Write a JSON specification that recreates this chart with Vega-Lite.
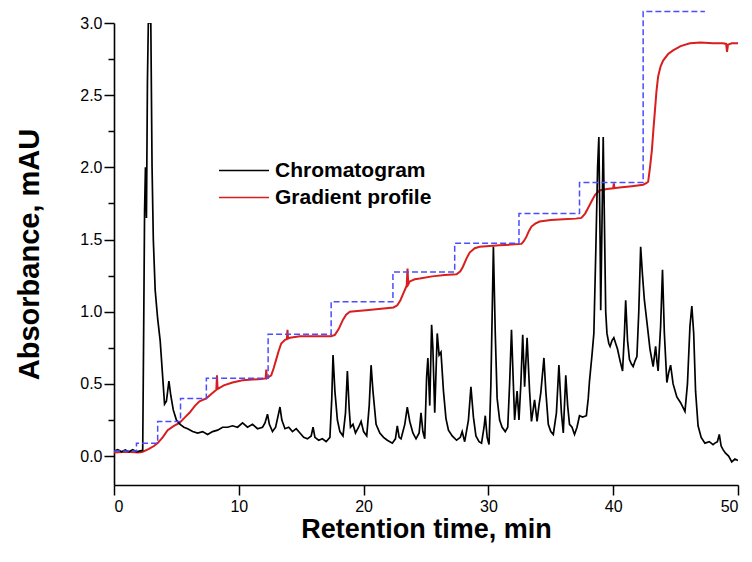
{
  "$schema": "https://vega.github.io/schema/vega-lite/v6.json",
  "width": 624,
  "height": 462,
  "autosize": {"type": "none"},
  "padding": {"left": 114, "top": 23, "right": 14, "bottom": 77},
  "background": "white",
  "config": {
    "view": {"stroke": null},
    "font": "Liberation Sans",
    "axis": {"grid": false, "domainColor": "black", "domainWidth": 1.6, "tickColor": "black", "tickWidth": 1.5, "labelColor": "black", "labelFont": "Liberation Sans", "labelFontSize": 16, "titleColor": "black", "titleFont": "Liberation Sans", "titleFontWeight": "bold"}
  },
  "datasets": {
    "chrom": [
      {"t":0,"v":0.035},{"t":0.3,"v":0.045},{"t":0.6,"v":0.03},{"t":0.9,"v":0.042},{"t":1.2,"v":0.03},{"t":1.5,"v":0.045},{"t":1.8,"v":0.03},{"t":2.1,"v":0.036},{"t":2.3,"v":0.04},
      {"t":2.38,"v":0.9},{"t":2.45,"v":1.7},{"t":2.52,"v":2.0},{"t":2.6,"v":1.65},{"t":2.68,"v":2.6},{"t":2.75,"v":3.0},{"t":2.95,"v":3.0},{"t":3.05,"v":2.0},{"t":3.15,"v":1.5},{"t":3.3,"v":1.15},{"t":3.5,"v":0.95},{"t":3.7,"v":0.8},{"t":3.9,"v":0.55},{"t":4.05,"v":0.36},{"t":4.2,"v":0.38},{"t":4.4,"v":0.52},{"t":4.55,"v":0.42},{"t":4.75,"v":0.32},{"t":5.0,"v":0.25},{"t":5.3,"v":0.22},
      {"t":5.6,"v":0.2},{"t":5.9,"v":0.19},{"t":6.3,"v":0.17},{"t":6.7,"v":0.16},{"t":7.1,"v":0.17},{"t":7.5,"v":0.15},{"t":7.9,"v":0.17},{"t":8.3,"v":0.18},{"t":8.7,"v":0.2},{"t":9.1,"v":0.2},{"t":9.5,"v":0.21},{"t":9.9,"v":0.2},{"t":10.3,"v":0.23},{"t":10.7,"v":0.2},{"t":11.1,"v":0.22},{"t":11.5,"v":0.19},{"t":11.9,"v":0.2},{"t":12.1,"v":0.23},{"t":12.3,"v":0.29},{"t":12.45,"v":0.22},{"t":12.7,"v":0.17},{"t":12.95,"v":0.2},{"t":13.2,"v":0.3},{"t":13.3,"v":0.34},{"t":13.45,"v":0.25},{"t":13.7,"v":0.19},{"t":14.0,"v":0.2},{"t":14.3,"v":0.17},{"t":14.6,"v":0.19},{"t":14.9,"v":0.16},{"t":15.2,"v":0.13},{"t":15.5,"v":0.12},{"t":15.8,"v":0.14},{"t":15.95,"v":0.2},{"t":16.1,"v":0.13},{"t":16.4,"v":0.11},{"t":16.7,"v":0.12},{"t":17.0,"v":0.1},{"t":17.3,"v":0.13},
      {"t":17.45,"v":0.4},{"t":17.55,"v":0.7},{"t":17.7,"v":0.45},{"t":17.9,"v":0.25},{"t":18.1,"v":0.17},{"t":18.35,"v":0.14},{"t":18.55,"v":0.3},{"t":18.7,"v":0.59},{"t":18.85,"v":0.32},{"t":18.95,"v":0.2},{"t":19.15,"v":0.22},{"t":19.35,"v":0.16},{"t":19.6,"v":0.2},{"t":19.8,"v":0.24},{"t":20.0,"v":0.17},{"t":20.25,"v":0.14},{"t":20.45,"v":0.35},{"t":20.6,"v":0.63},{"t":20.75,"v":0.45},{"t":21.0,"v":0.22},{"t":21.3,"v":0.16},{"t":21.6,"v":0.13},{"t":21.9,"v":0.11},{"t":22.3,"v":0.09},{"t":22.55,"v":0.12},{"t":22.7,"v":0.21},{"t":22.85,"v":0.13},{"t":23.0,"v":0.12},{"t":23.3,"v":0.22},{"t":23.5,"v":0.34},{"t":23.7,"v":0.24},{"t":23.95,"v":0.16},{"t":24.2,"v":0.12},{"t":24.45,"v":0.16},{"t":24.6,"v":0.3},{"t":24.75,"v":0.17},{"t":24.9,"v":0.12},
      {"t":25.05,"v":0.55},{"t":25.15,"v":0.68},{"t":25.3,"v":0.35},{"t":25.45,"v":0.91},{"t":25.55,"v":0.75},{"t":25.7,"v":0.3},{"t":25.9,"v":0.85},{"t":26.05,"v":0.7},{"t":26.2,"v":0.72},{"t":26.4,"v":0.45},{"t":26.6,"v":0.26},{"t":26.8,"v":0.18},{"t":27.1,"v":0.14},{"t":27.45,"v":0.11},{"t":27.75,"v":0.13},{"t":27.9,"v":0.17},{"t":28.1,"v":0.1},{"t":28.4,"v":0.25},{"t":28.6,"v":0.48},{"t":28.8,"v":0.27},{"t":29.0,"v":0.14},{"t":29.25,"v":0.1},{"t":29.45,"v":0.09},{"t":29.65,"v":0.2},{"t":29.75,"v":0.28},{"t":29.9,"v":0.13},{"t":30.05,"v":0.08},
      {"t":30.2,"v":0.5},{"t":30.4,"v":1.45},{"t":30.55,"v":0.85},{"t":30.7,"v":0.4},{"t":30.9,"v":0.25},{"t":31.1,"v":0.2},{"t":31.35,"v":0.17},{"t":31.55,"v":0.2},{"t":31.7,"v":0.5},{"t":31.85,"v":0.875},{"t":32.0,"v":0.5},{"t":32.1,"v":0.25},{"t":32.3,"v":0.45},{"t":32.45,"v":0.25},{"t":32.6,"v":0.5},{"t":32.75,"v":0.84},{"t":32.9,"v":0.48},{"t":33.1,"v":0.82},{"t":33.3,"v":0.45},{"t":33.45,"v":0.24},{"t":33.7,"v":0.39},{"t":33.9,"v":0.24},{"t":34.05,"v":0.35},{"t":34.2,"v":0.44},{"t":34.45,"v":0.68},{"t":34.6,"v":0.45},{"t":34.8,"v":0.22},{"t":35.0,"v":0.17},{"t":35.2,"v":0.15},{"t":35.45,"v":0.3},{"t":35.65,"v":0.63},{"t":35.85,"v":0.3},{"t":36.0,"v":0.16},{"t":36.2,"v":0.56},{"t":36.35,"v":0.35},{"t":36.5,"v":0.22},{"t":36.7,"v":0.2},{"t":36.9,"v":0.15},{"t":37.1,"v":0.2},{"t":37.3,"v":0.28},{"t":37.55,"v":0.27},{"t":37.85,"v":0.28},{"t":38.0,"v":0.4},{"t":38.1,"v":0.52},{"t":38.3,"v":0.7},{"t":38.45,"v":0.85},
      {"t":38.6,"v":1.4},{"t":38.75,"v":2.0},{"t":38.85,"v":2.21},{"t":38.95,"v":1.5},{"t":39.0,"v":1.01},{"t":39.1,"v":1.6},{"t":39.2,"v":2.21},{"t":39.3,"v":1.6},{"t":39.4,"v":1.0},{"t":39.5,"v":0.85},{"t":39.65,"v":0.78},{"t":39.75,"v":0.76},{"t":39.9,"v":0.8},{"t":40.05,"v":0.82},{"t":40.2,"v":0.78},{"t":40.35,"v":0.74},{"t":40.55,"v":0.66},{"t":40.75,"v":0.59},{"t":40.9,"v":0.85},{"t":41.0,"v":1.08},{"t":41.15,"v":0.8},{"t":41.3,"v":0.67},{"t":41.45,"v":0.64},{"t":41.6,"v":0.62},{"t":41.75,"v":0.66},{"t":41.9,"v":0.69},{"t":42.05,"v":1.0},{"t":42.2,"v":1.45},{"t":42.35,"v":1.25},{"t":42.5,"v":1.08},{"t":42.7,"v":0.93},{"t":42.95,"v":0.74},{"t":43.2,"v":0.62},{"t":43.4,"v":0.76},{"t":43.5,"v":0.66},{"t":43.6,"v":0.59},{"t":43.8,"v":0.9},{"t":43.95,"v":1.29},{"t":44.1,"v":0.85},{"t":44.3,"v":0.51},{"t":44.45,"v":0.58},{"t":44.6,"v":0.63},{"t":44.8,"v":0.5},{"t":45.1,"v":0.41},{"t":45.4,"v":0.37},{"t":45.75,"v":0.31},{"t":45.95,"v":0.5},{"t":46.15,"v":0.9},{"t":46.3,"v":1.04},{"t":46.45,"v":0.85},{"t":46.6,"v":0.45},{"t":46.8,"v":0.21},{"t":47.05,"v":0.13},{"t":47.35,"v":0.09},{"t":47.7,"v":0.1},{"t":48.0,"v":0.08},{"t":48.15,"v":0.09},{"t":48.35,"v":0.1},{"t":48.5,"v":0.15},{"t":48.65,"v":0.07},{"t":48.8,"v":0.045},{"t":49.0,"v":0.02},{"t":49.25,"v":0.0},{"t":49.5,"v":-0.04},{"t":49.75,"v":-0.02},{"t":50.0,"v":-0.03}
    ],
    "grad": [
      {"t":0,"v":0.025},{"t":1.0,"v":0.03},{"t":2.0,"v":0.025},{"t":2.3,"v":0.03},{"t":2.8,"v":0.05},{"t":3.2,"v":0.07},{"t":3.5,"v":0.09},{"t":3.9,"v":0.13},{"t":4.3,"v":0.18},{"t":4.8,"v":0.21},{"t":5.25,"v":0.23},{"t":5.7,"v":0.27},{"t":6.05,"v":0.3},{"t":6.5,"v":0.35},{"t":6.85,"v":0.38},{"t":7.4,"v":0.4},{"t":7.8,"v":0.43},{"t":8.2,"v":0.46},{"t":8.25,"v":0.56},{"t":8.3,"v":0.465},{"t":8.8,"v":0.49},{"t":9.5,"v":0.51},{"t":10.3,"v":0.525},{"t":11.1,"v":0.53},{"t":11.8,"v":0.535},{"t":12.15,"v":0.538},{"t":12.2,"v":0.6},{"t":12.25,"v":0.54},{"t":12.6,"v":0.56},{"t":12.8,"v":0.61},{"t":13.0,"v":0.67},{"t":13.2,"v":0.73},{"t":13.4,"v":0.78},{"t":13.7,"v":0.805},{"t":13.85,"v":0.81},{"t":13.9,"v":0.875},{"t":13.95,"v":0.815},{"t":14.1,"v":0.82},{"t":14.9,"v":0.83},{"t":15.7,"v":0.83},{"t":16.5,"v":0.83},{"t":17.4,"v":0.83},{"t":17.7,"v":0.84},{"t":18.0,"v":0.88},{"t":18.35,"v":0.945},{"t":18.6,"v":0.98},{"t":18.9,"v":1.0},{"t":19.5,"v":1.005},{"t":20.2,"v":1.01},{"t":21.4,"v":1.02},{"t":22.4,"v":1.03},{"t":22.7,"v":1.045},{"t":22.95,"v":1.08},{"t":23.15,"v":1.12},{"t":23.45,"v":1.18},{"t":23.52,"v":1.3},{"t":23.58,"v":1.19},{"t":23.7,"v":1.21},{"t":24.1,"v":1.225},{"t":24.5,"v":1.23},{"t":25.5,"v":1.245},{"t":26.5,"v":1.255},{"t":27.45,"v":1.26},{"t":27.75,"v":1.28},{"t":27.95,"v":1.31},{"t":28.25,"v":1.37},{"t":28.5,"v":1.41},{"t":28.9,"v":1.44},{"t":29.3,"v":1.45},{"t":30.1,"v":1.455},{"t":30.9,"v":1.46},{"t":31.8,"v":1.465},{"t":32.65,"v":1.47},{"t":32.85,"v":1.49},{"t":33.05,"v":1.52},{"t":33.25,"v":1.56},{"t":33.45,"v":1.59},{"t":33.75,"v":1.61},{"t":34.1,"v":1.625},{"t":35.0,"v":1.635},{"t":36.0,"v":1.64},{"t":37.0,"v":1.645},{"t":37.45,"v":1.65},{"t":37.75,"v":1.68},{"t":38.0,"v":1.72},{"t":38.3,"v":1.77},{"t":38.55,"v":1.81},{"t":38.9,"v":1.84},{"t":39.5,"v":1.85},{"t":40.0,"v":1.855},{"t":40.05,"v":1.89},{"t":40.1,"v":1.856},{"t":40.5,"v":1.86},{"t":41.5,"v":1.87},{"t":42.4,"v":1.88},{"t":42.65,"v":1.89},{"t":42.8,"v":1.9},{"t":42.95,"v":2.0},{"t":43.1,"v":2.12},{"t":43.22,"v":2.26},{"t":43.35,"v":2.4},{"t":43.47,"v":2.53},{"t":43.6,"v":2.63},{"t":43.8,"v":2.7},{"t":44.0,"v":2.74},{"t":44.4,"v":2.785},{"t":44.8,"v":2.81},{"t":45.4,"v":2.84},{"t":46.15,"v":2.86},{"t":47.0,"v":2.865},{"t":48.0,"v":2.86},{"t":48.8,"v":2.86},{"t":49.05,"v":2.855},{"t":49.12,"v":2.8},{"t":49.2,"v":2.85},{"t":49.5,"v":2.86},{"t":50.0,"v":2.86}
    ],
    "prog": [
      {"t":0,"v":0.035},{"t":1.8,"v":0.09},{"t":3.5,"v":0.24},{"t":5.33,"v":0.4},{"t":7.4,"v":0.54},{"t":12.35,"v":0.845},{"t":17.4,"v":1.07},{"t":22.35,"v":1.275},{"t":27.3,"v":1.475},{"t":32.45,"v":1.68},{"t":37.3,"v":1.895},{"t":42.4,"v":3.08},{"t":47.35,"v":3.08}
    ]
  },
  "encoding": {
    "x": {"field": "t", "type": "quantitative", "scale": {"domain": [0, 50], "nice": false, "zero": false},
      "axis": {"values": [0, 10, 20, 30, 40, 50], "format": "d", "tickSize": 10, "labelPadding": 3, "title": "Retention time, min", "titleFontSize": 27, "titlePadding": 2}},
    "y": {"field": "v", "type": "quantitative", "scale": {"domain": [-0.2, 3.0], "nice": false, "zero": false},
      "axis": {"values": [0, 0.25, 0.5, 0.75, 1, 1.25, 1.5, 1.75, 2, 2.25, 2.5, 2.75, 3], "labelExpr": "datum.value % 0.5 === 0 ? format(datum.value, '.1f') : ''", "tickSize": {"condition": {"test": "datum.value % 0.5 === 0", "value": 10}, "value": 6}, "labelPadding": 2, "title": "Absorbance, mAU", "titleFontSize": 29, "titlePadding": 35}}
  },
  "layer": [
    {
      "data": {"name": "grad"},
      "mark": {"type": "line", "strokeWidth": 2, "clip": true},
      "encoding": {"color": {"datum": "Gradient profile", "type": "nominal",
        "scale": {"domain": ["Chromatogram", "Gradient profile"], "range": ["#000000", "#d81e1e"]},
        "legend": {"title": null, "orient": "none", "legendX": 104, "legendY": 134, "symbolType": "stroke", "symbolSize": 2500, "symbolStrokeWidth": 1.5, "clipHeight": 27, "rowPadding": 0, "padding": 0, "labelOffset": 5, "labelFont": "Liberation Sans", "labelFontSize": 21, "labelFontWeight": "bold", "labelColor": "black", "labelLimit": 400}}}
    },
    {
      "data": {"name": "chrom"},
      "mark": {"type": "line", "strokeWidth": 1.7, "clip": true},
      "encoding": {"color": {"datum": "Chromatogram", "type": "nominal"}}
    },
    {
      "data": {"name": "prog"},
      "mark": {"type": "line", "interpolate": "step-after", "color": "#4d4dff", "strokeWidth": 1.5, "strokeDash": [6, 3], "clip": false}
    }
  ]
}
